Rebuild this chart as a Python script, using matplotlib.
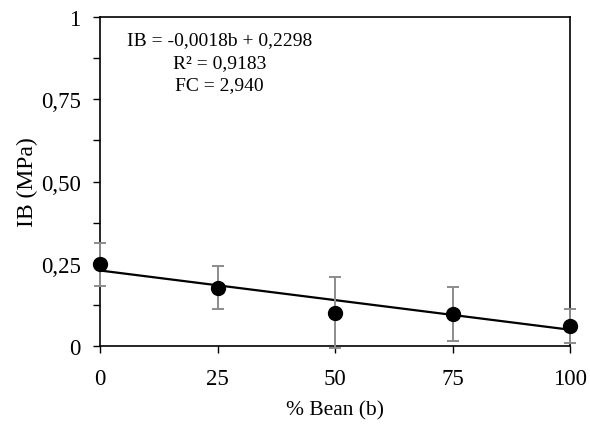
import numpy as np
import matplotlib.pyplot as plt
from matplotlib.ticker import MultipleLocator, FixedFormatter, FixedLocator

plt.rcParams['font.family'] = ['Liberation Serif', 'DejaVu Serif']

bean = [0, 25, 50, 75, 100]
ib = [0.249, 0.178, 0.101, 0.098, 0.061]
ib_err = [0.065, 0.065, 0.108, 0.082, 0.052]

slope = -0.0018
intercept = 0.2298

y_ticks = [0, 0.25, 0.5, 0.75, 1]
y_labels = ['0', '0,25', '0,50', '0,75', '1']
x_ticks = [0, 25, 50, 75, 100]

fig = plt.figure(figsize=(5.9, 4.27), dpi=100)
ax = fig.add_axes([0.1695, 0.187, 0.797, 0.771])

x_fit = np.array([0, 100])
ax.plot(x_fit, slope * x_fit + intercept, color='black', lw=1.6, zorder=2)
ax.errorbar(bean, ib, yerr=ib_err, fmt='o', color='black', ms=10,
            ecolor='#8c8c8c', elinewidth=1.4, capsize=4, capthick=1.4,
            zorder=3, clip_on=False)

ax.set_xlim(0, 100)
ax.set_ylim(0, 1)
ax.xaxis.set_major_locator(FixedLocator(x_ticks))
ax.yaxis.set_major_locator(FixedLocator(y_ticks))
ax.yaxis.set_major_formatter(FixedFormatter(y_labels))
ax.yaxis.set_minor_locator(MultipleLocator(0.125))
ax.tick_params(axis='both', which='major', direction='out', length=5, width=1,
               labelsize=16.5)
ax.tick_params(axis='x', which='major', pad=11)
ax.tick_params(axis='y', which='major', pad=9)
ax.tick_params(axis='y', which='minor', direction='out', length=5, width=1)
for s in ax.spines.values():
    s.set_linewidth(1.2)

ax.set_xlabel('% Bean (b)', fontsize=15.5, labelpad=8)
ax.set_ylabel('IB (MPa)', fontsize=17, labelpad=2)

ax.text(0.254, 0.958, 'IB = -0,0018b + 0,2298\nR² = 0,9183\nFC = 2,940',
        transform=ax.transAxes, ha='center', va='top', fontsize=14,
        multialignment='center', linespacing=1.45)

fig.savefig('out.png', dpi=100)
